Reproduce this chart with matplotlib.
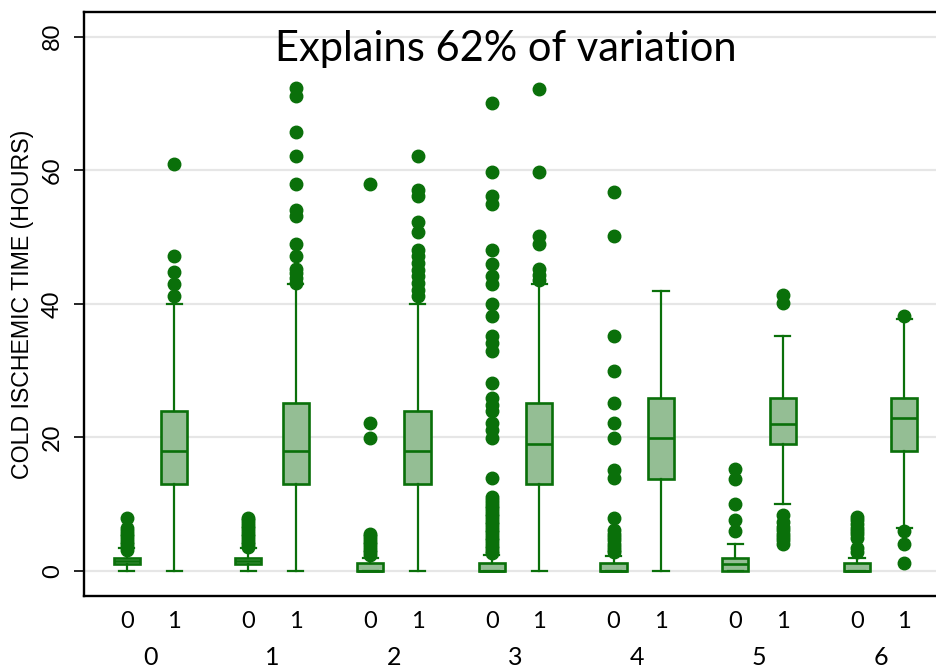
import matplotlib
matplotlib.use("Agg")
import matplotlib.pyplot as plt

# --- data ---
groups = [0, 1, 2, 3, 4, 5, 6]
subs = [0, 1]

# one entry per box, ordered (group 0 sub 0), (group 0 sub 1), (group 1 sub 0), ...
q1 = [1.0, 13.0, 1.0, 13.0, 0.0, 13.0, 0.0, 13.0, 0.0, 13.8, 0.0, 19.0, 0.0, 17.9]
med = [1.5, 18.0, 1.5, 18.0, 0.0, 18.0, 0.0, 19.0, 0.0, 19.9, 1.0, 22.0, 0.0, 22.9]
q3 = [2.0, 24.0, 2.0, 25.1, 1.2, 24.0, 1.2, 25.1, 1.2, 25.9, 1.9, 25.9, 1.2, 25.9]
whislo = [0.0, 0.0, 0.0, 0.0, 0.0, 0.0, 0.0, 0.0, 0.0, 0.0, 0.0, 10.1, 0.0, 6.4]
whishi = [3.4, 40.0, 3.4, 43.0, 2.0, 40.0, 2.4, 43.0, 2.2, 41.9, 4.1, 35.2, 1.9, 37.8]

fliers = [
    [3.2, 3.6, 4.0, 4.4, 4.8, 5.2, 5.6, 6.0, 6.4, 8.0],
    [41.2, 43.0, 44.8, 47.1, 61.0],
    [3.6, 4.0, 4.4, 4.8, 5.2, 5.6, 6.0, 6.4, 6.8, 7.2, 7.6, 8.0],
    [43.1, 43.9, 44.6, 45.2, 47.1, 49.0, 53.1, 54.0, 58.0, 62.2, 65.8, 71.1, 72.3],
    [2.4, 2.8, 3.2, 3.6, 4.0, 4.4, 4.8, 5.2, 5.6, 19.9, 22.1, 58.0],
    [41.2, 42.1, 43.1, 44.1, 45.1, 46.1, 47.1, 48.1, 50.8, 52.2, 56.1, 57.0, 62.2],
    [2.7, 3.0, 3.4, 3.8, 4.2, 4.6, 5.0, 5.4, 5.8, 6.2, 6.6, 7.0, 7.4, 7.8, 8.2,
     8.6, 9.0, 9.4, 9.8, 10.2, 10.6, 11.1, 13.9, 19.9, 21.1, 22.1, 23.9, 24.9,
     25.9, 28.1, 32.9, 34.1, 35.2, 38.2, 40.0, 43.0, 44.2, 46.0, 48.0, 55.0,
     56.2, 59.8, 70.0],
    [43.6, 44.3, 45.2, 49.0, 50.2, 59.8, 72.2],
    [2.8, 3.2, 3.6, 4.1, 4.6, 5.1, 5.6, 6.1, 8.0, 13.9, 15.1, 19.9, 22.1, 25.1,
     30.0, 35.2, 50.1, 56.8],
    [],
    [6.0, 7.7, 10.1, 13.8, 15.2],
    [4.0, 4.6, 5.1, 5.6, 6.1, 6.6, 7.4, 8.4, 40.1, 41.3],
    [2.9, 3.4, 4.9, 5.5, 6.0, 6.5, 7.1, 7.6, 8.1],
    [1.15, 4.1, 6.0, 38.2],
]

title = "Explains 62% of variation"
ylabel = "COLD ISCHEMIC TIME (HOURS)"
yticks = [0, 20, 40, 60, 80]

GREEN = "#0a700a"
FILL = "#94be94"
TICK_FONT = ["Lato", "DejaVu Sans"]

stats = []
positions = []
sub_labels = []
i = 0
for g in groups:
    for s in subs:
        stats.append({"q1": q1[i], "med": med[i], "q3": q3[i],
                      "whislo": whislo[i], "whishi": whishi[i],
                      "fliers": fliers[i]})
        positions.append(g + (s - 0.5) * 0.39)
        sub_labels.append(str(s))
        i += 1

fig = plt.figure(figsize=(9.36, 6.72), dpi=100)
ax = fig.add_axes([84 / 936, 76 / 672, 866 / 936, 584 / 672])

ax.bxp(stats, positions=positions, widths=0.215, capwidths=0.125,
       patch_artist=True, showfliers=True,
       boxprops=dict(facecolor=FILL, edgecolor=GREEN, linewidth=1.9),
       medianprops=dict(color=GREEN, linewidth=1.9),
       whiskerprops=dict(color=GREEN, linewidth=1.6),
       capprops=dict(color=GREEN, linewidth=1.6),
       flierprops=dict(marker="o", markerfacecolor=GREEN, markeredgecolor=GREEN,
                       markersize=9, linestyle="none"))

ax.set_xlim(-0.546, 6.57)
ax.set_ylim(-3.75, 83.7)

ax.set_yticks(yticks)
ax.set_yticklabels([str(v) for v in yticks], rotation=90, va="center",
                   fontsize=17, family=TICK_FONT)
ax.tick_params(axis="y", length=7, width=1.2, pad=8, direction="out")
ax.yaxis.grid(True, color="#e6e6e6", linewidth=1.6)
ax.set_axisbelow(True)

ax.set_xticks(positions)
ax.set_xticklabels(sub_labels, fontsize=17, family=TICK_FONT)
ax.tick_params(axis="x", length=0, pad=11)
for g in groups:
    ax.text(g, -0.106, str(g), transform=ax.get_xaxis_transform(),
            ha="center", va="center", fontsize=18, family=TICK_FONT)

ax.set_ylabel(ylabel, fontsize=16.7, family=["Liberation Sans", "DejaVu Sans"],
              labelpad=6)

ax.text(2.92, 78.2, title, ha="center", va="center", fontsize=30,
        family=TICK_FONT)

for side in ["left", "top", "bottom"]:
    ax.spines[side].set_linewidth(1.7)
    ax.spines[side].set_color("black")
ax.spines["right"].set_visible(False)

fig.savefig("out.png", dpi=100)
